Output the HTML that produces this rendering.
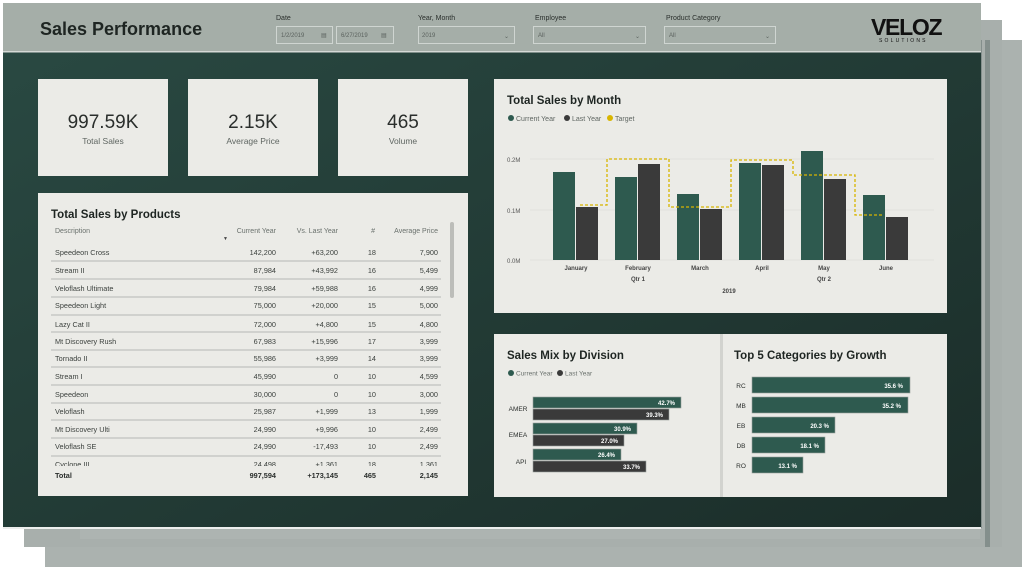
<!DOCTYPE html>
<html><head><meta charset="utf-8"><style>
html,body{margin:0;padding:0;background:#fff;width:1024px;height:570px;overflow:hidden}
svg{display:block;font-family:"Liberation Sans",sans-serif}
</style></head><body>
<svg width="1024" height="570" viewBox="0 0 1024 570" xmlns="http://www.w3.org/2000/svg">
<defs>
<linearGradient id="bg" x1="0" y1="0" x2="1" y2="1">
<stop offset="0" stop-color="#2a4a43"/><stop offset="1" stop-color="#1b2d29"/></linearGradient>
</defs>
<rect width="1024" height="570" fill="#fff"/>
<!-- back layers -->
<rect x="45" y="40" width="977" height="527" fill="#abb2af"/>
<rect x="24" y="20" width="978" height="527" fill="#a8afac"/>
<rect x="45" y="40" width="937" height="488" fill="#848f8c"/>
<rect x="985" y="40" width="5" height="507" fill="#848f8c"/>
<rect x="24" y="528" width="21" height="19" fill="#a8afac"/>
<rect x="80" y="529" width="900" height="10" fill="#adb4b1"/>
<rect x="3" y="527" width="978" height="2" fill="#eceeed"/>
<!-- main -->
<rect x="3" y="3" width="978" height="524" fill="url(#bg)"/>
<rect x="3" y="3" width="978" height="48" fill="#a5aea8"/>
<rect x="3" y="51" width="978" height="1.5" fill="#d5d9d6"/>
<text x="40" y="35" font-size="18" font-weight="bold" fill="#1e2522">Sales Performance</text>
<g font-size="7" fill="#2a2f2c">
<text x="276" y="20">Date</text><text x="418" y="20">Year, Month</text>
<text x="535" y="20">Employee</text><text x="666" y="20">Product Category</text></g>
<g fill="none" stroke="#cfd5d1" stroke-width="1">
<rect x="276.5" y="26.5" width="56" height="17"/><rect x="336.5" y="26.5" width="57" height="17"/>
<rect x="418.5" y="26.5" width="96" height="17"/><rect x="533.5" y="26.5" width="112" height="17"/>
<rect x="664.5" y="26.5" width="111" height="17"/></g>
<g font-size="6" fill="#5b625e">
<text x="281" y="37">1/2/2019</text><text x="341" y="37">6/27/2019</text>
<text x="422" y="37">2019</text><text x="538" y="37">All</text><text x="669" y="37">All</text>
<text x="321" y="37">▤</text><text x="381" y="37">▤</text>
<text x="504" y="38">⌄</text><text x="635" y="38">⌄</text><text x="765" y="38">⌄</text></g>
<text x="871" y="35" font-size="23" font-weight="bold" fill="#111" letter-spacing="-1.5" textLength="70">VELOZ</text>
<text x="879" y="42" font-size="5" fill="#111" letter-spacing="2.2">SOLUTIONS</text>

<!-- KPI -->
<g fill="#ebebe7">
<rect x="38" y="79" width="130" height="97"/><rect x="188" y="79" width="130" height="97"/><rect x="338" y="79" width="130" height="97"/>
<rect x="38" y="193" width="430" height="303"/>
<rect x="494" y="79" width="453" height="234"/>
<rect x="494" y="334" width="226" height="163"/><rect x="723" y="334" width="224" height="163"/></g>
<rect x="720" y="334" width="3" height="163" fill="#d2d3cf"/>
<g text-anchor="middle" fill="#2a2e2c">
<text x="103" y="128" font-size="19">997.59K</text><text x="253" y="128" font-size="19">2.15K</text><text x="403" y="128" font-size="19">465</text>
<g font-size="8.5" fill="#5f6662"><text x="103" y="144">Total Sales</text><text x="253" y="144">Average Price</text><text x="403" y="144">Volume</text></g></g>

<!-- table -->
<text x="51" y="218" font-size="11.5" font-weight="bold" fill="#1e2522">Total Sales by Products</text>
<g font-size="7" fill="#6a716d">
<text x="55" y="233">Description</text>
<g text-anchor="end"><text x="276" y="233">Current Year</text><text x="338" y="233">Vs. Last Year</text><text x="375" y="233">#</text><text x="438" y="233">Average Price</text></g></g>
<text x="223" y="240" font-size="5" fill="#444">▼</text>
<rect x="450" y="222" width="4" height="76" rx="2" fill="#bcbdb9"/>
<g stroke="#a2a6a3" stroke-width="0.8">
<line x1="51" y1="261" x2="441" y2="261"/><line x1="51" y1="279" x2="441" y2="279"/><line x1="51" y1="297" x2="441" y2="297"/>
<line x1="51" y1="315" x2="441" y2="315"/><line x1="51" y1="332" x2="441" y2="332"/><line x1="51" y1="350" x2="441" y2="350"/>
<line x1="51" y1="367" x2="441" y2="367"/><line x1="51" y1="385" x2="441" y2="385"/><line x1="51" y1="403" x2="441" y2="403"/>
<line x1="51" y1="420" x2="441" y2="420"/><line x1="51" y1="438" x2="441" y2="438"/><line x1="51" y1="456" x2="441" y2="456"/></g>
<g font-size="7.3" fill="#3b403d">
<g><text x="55" y="255">Speedeon Cross</text><text x="55" y="273">Stream II</text><text x="55" y="291">Veloflash Ultimate</text>
<text x="55" y="308">Speedeon Light</text><text x="55" y="327">Lazy Cat II</text><text x="55" y="344">Mt Discovery Rush</text>
<text x="55" y="361">Tornado II</text><text x="55" y="379">Stream I</text><text x="55" y="397">Speedeon</text>
<text x="55" y="414">Veloflash</text><text x="55" y="432">Mt Discovery Ulti</text><text x="55" y="449">Veloflash SE</text></g>
<g text-anchor="end">
<text x="276" y="255">142,200</text><text x="276" y="273">87,984</text><text x="276" y="291">79,984</text><text x="276" y="308">75,000</text>
<text x="276" y="327">72,000</text><text x="276" y="344">67,983</text><text x="276" y="361">55,986</text><text x="276" y="379">45,990</text>
<text x="276" y="397">30,000</text><text x="276" y="414">25,987</text><text x="276" y="432">24,990</text><text x="276" y="449">24,990</text>
<text x="338" y="255">+63,200</text><text x="338" y="273">+43,992</text><text x="338" y="291">+59,988</text><text x="338" y="308">+20,000</text>
<text x="338" y="327">+4,800</text><text x="338" y="344">+15,996</text><text x="338" y="361">+3,999</text><text x="338" y="379">0</text>
<text x="338" y="397">0</text><text x="338" y="414">+1,999</text><text x="338" y="432">+9,996</text><text x="338" y="449">-17,493</text>
<text x="376" y="255">18</text><text x="376" y="273">16</text><text x="376" y="291">16</text><text x="376" y="308">15</text>
<text x="376" y="327">15</text><text x="376" y="344">17</text><text x="376" y="361">14</text><text x="376" y="379">10</text>
<text x="376" y="397">10</text><text x="376" y="414">13</text><text x="376" y="432">10</text><text x="376" y="449">10</text>
<text x="438" y="255">7,900</text><text x="438" y="273">5,499</text><text x="438" y="291">4,999</text><text x="438" y="308">5,000</text>
<text x="438" y="327">4,800</text><text x="438" y="344">3,999</text><text x="438" y="361">3,999</text><text x="438" y="379">4,599</text>
<text x="438" y="397">3,000</text><text x="438" y="414">1,999</text><text x="438" y="432">2,499</text><text x="438" y="449">2,499</text></g>
<svg x="0" y="458" width="1024" height="8" overflow="hidden"><g transform="translate(0,-458)">
<text x="55" y="467">Cyclone III</text><g text-anchor="end"><text x="276" y="467">24,498</text><text x="338" y="467">+1,361</text><text x="376" y="467">18</text><text x="438" y="467">1,361</text></g></g></svg>
<g font-weight="bold" fill="#2a2e2c"><text x="55" y="478">Total</text>
<g text-anchor="end"><text x="276" y="478">997,594</text><text x="338" y="478">+173,145</text><text x="376" y="478">465</text><text x="438" y="478">2,145</text></g></g></g>

<!-- Month chart -->
<text x="507" y="104" font-size="11.5" font-weight="bold" fill="#1e2522">Total Sales by Month</text>
<g font-size="7" fill="#5f6662"><circle cx="511" cy="118" r="3" fill="#2e5a4f"/><text x="516" y="121">Current Year</text>
<circle cx="567" cy="118" r="3" fill="#3a3a3a"/><text x="572" y="121">Last Year</text>
<circle cx="610" cy="118" r="3" fill="#d8b500"/><text x="615" y="121">Target</text></g>
<g stroke="#dedfdb" stroke-width="0.7"><line x1="530" y1="159" x2="934" y2="159"/><line x1="530" y1="210" x2="934" y2="210"/><line x1="530" y1="260" x2="934" y2="260"/></g>
<g font-size="6" fill="#555"><text x="507" y="162">0.2M</text><text x="507" y="213">0.1M</text><text x="507" y="263">0.0M</text></g>
<g fill="#2e5a4f">
<rect x="553" y="172" width="22" height="88"/><rect x="615" y="177" width="22" height="83"/><rect x="677" y="194" width="22" height="66"/>
<rect x="739" y="163" width="22" height="97"/><rect x="801" y="151" width="22" height="109"/><rect x="863" y="195" width="22" height="65"/></g>
<g fill="#3a3a3a">
<rect x="576" y="207" width="22" height="53"/><rect x="638" y="164" width="22" height="96"/><rect x="700" y="209" width="22" height="51"/>
<rect x="762" y="165" width="22" height="95"/><rect x="824" y="179" width="22" height="81"/><rect x="886" y="217" width="22" height="43"/></g>
<path d="M580 205 H607 V159 H669 V207 H731 V160 H793 V175 H855 V215 H883" fill="none" stroke="#d8b500" stroke-width="1.3" stroke-dasharray="3,2"/>
<g font-size="6" font-weight="bold" fill="#444" text-anchor="middle">
<text x="576" y="270">January</text><text x="638" y="270">February</text><text x="700" y="270">March</text>
<text x="762" y="270">April</text><text x="824" y="270">May</text><text x="886" y="270">June</text>
<text x="638" y="281">Qtr 1</text><text x="824" y="281">Qtr 2</text><text x="729" y="293">2019</text></g>

<!-- Division -->
<text x="507" y="359" font-size="11.5" font-weight="bold" fill="#1e2522">Sales Mix by Division</text>
<g font-size="6.5" fill="#6a716d"><circle cx="511" cy="373" r="3" fill="#2e5a4f"/><text x="516" y="375.5">Current Year</text>
<circle cx="560" cy="373" r="3" fill="#3a3a3a"/><text x="565" y="375.5">Last Year</text></g>
<g stroke="#9aa19d" stroke-width="0.6">
<rect x="533" y="397" width="148" height="11" fill="#2e5a4f"/><rect x="533" y="409" width="136" height="11" fill="#3a3a3a"/>
<rect x="533" y="423" width="104" height="11" fill="#2e5a4f"/><rect x="533" y="435" width="91" height="11" fill="#3a3a3a"/>
<rect x="533" y="449" width="88" height="11" fill="#2e5a4f"/><rect x="533" y="461" width="113" height="11" fill="#3a3a3a"/></g>
<g font-size="6" fill="#fff" text-anchor="end" font-weight="bold">
<text x="675" y="405">42.7%</text><text x="663" y="417">39.3%</text><text x="631" y="431">30.9%</text>
<text x="618" y="443">27.0%</text><text x="615" y="457">26.4%</text><text x="640" y="469">33.7%</text></g>
<g font-size="6.5" fill="#2a2e2c" text-anchor="middle"><text x="518" y="411">AMER</text><text x="518" y="437">EMEA</text><text x="521" y="464">API</text></g>

<!-- Top5 -->
<text x="734" y="359" font-size="11.5" font-weight="bold" fill="#1e2522">Top 5 Categories by Growth</text>
<g fill="#2e5a4f" stroke="#9aa19d" stroke-width="0.6">
<rect x="752" y="377" width="158" height="16"/><rect x="752" y="397" width="156" height="16"/><rect x="752" y="417" width="83" height="16"/>
<rect x="752" y="437" width="73" height="16"/><rect x="752" y="457" width="51" height="16"/></g>
<g font-size="6" fill="#fff" text-anchor="end" font-weight="bold">
<text x="903" y="388">35.6 %</text><text x="901" y="408">35.2 %</text><text x="829" y="428">20.3 %</text>
<text x="819" y="448">18.1 %</text><text x="797" y="468">13.1 %</text></g>
<g font-size="6.5" fill="#2a2e2c" text-anchor="middle"><text x="741" y="388">RC</text><text x="741" y="408">MB</text><text x="741" y="428">EB</text><text x="741" y="448">DB</text><text x="741" y="468">RO</text></g>
</svg>
</body></html>
